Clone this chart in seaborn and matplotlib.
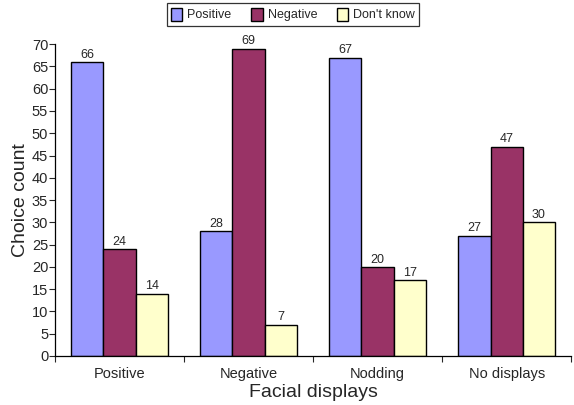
import matplotlib
matplotlib.use("Agg")
import matplotlib.pyplot as plt
import seaborn as sns
import pandas as pd

categories = ["Positive", "Negative", "Nodding", "No displays"]
series = ["Positive", "Negative", "Don't know"]
positive = [66, 28, 67, 27]
negative = [24, 69, 20, 47]
dont_know = [14, 7, 17, 30]
colors = ["#9999FF", "#993366", "#FFFFCC"]

df = pd.DataFrame({
    "display": categories * 3,
    "choice": [s for s in series for _ in categories],
    "count": positive + negative + dont_know,
})

sns.set_theme(style="white")
plt.rcParams["font.family"] = ["Liberation Sans", "DejaVu Sans"]

fig = plt.figure(figsize=(5.74, 4.05), dpi=100)
ax = fig.add_axes([0.096, 0.121, 0.899, 0.770])

sns.barplot(data=df, x="display", y="count", hue="choice", order=categories,
            hue_order=series, palette=colors, width=0.75, saturation=1,
            edgecolor="black", linewidth=1.0, ax=ax)

for cont in ax.containers:
    ax.bar_label(cont, fmt="%d", padding=1, fontsize=9)

ax.set_ylim(0, 70)
ax.set_yticks(range(0, 71, 5))
ax.set_xlim(-0.5, len(categories) - 0.5)
ax.set_xticks([i - 0.5 for i in range(len(categories) + 1)], minor=True)
ax.tick_params(axis="x", which="major", length=0, labelsize=10.5, pad=8)
ax.tick_params(axis="x", which="minor", length=4, width=0.8, bottom=True, direction="out")
ax.tick_params(axis="y", length=4, width=0.8, labelsize=10.5, left=True, direction="out", pad=1)

for side in ["top", "right"]:
    ax.spines[side].set_visible(False)
for side in ["left", "bottom"]:
    ax.spines[side].set_color("black")
    ax.spines[side].set_linewidth(0.9)

ax.set_xlabel("Facial displays", fontsize=14, labelpad=2)
ax.set_ylabel("Choice count", fontsize=14, labelpad=2)

leg = ax.legend(loc="center", bbox_to_anchor=(0.461, 1.0946), ncol=3, frameon=True,
                fancybox=False, edgecolor="black", fontsize=9, handlelength=0.9,
                handleheight=1.2, handletextpad=0.4, columnspacing=1.6,
                borderpad=0.35, title=None)
leg.get_frame().set_linewidth(0.9)

fig.savefig("out.png", dpi=100)
